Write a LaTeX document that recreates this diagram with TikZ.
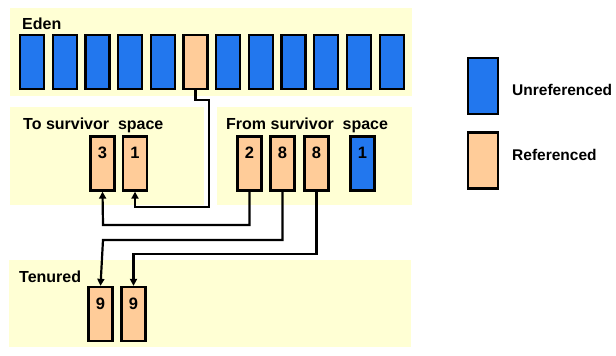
\documentclass[tikz,border=0pt]{standalone}
\usepackage{fontspec}
\setmainfont{Liberation Sans}
\usetikzlibrary{arrows.meta}
\definecolor{panelY}{HTML}{FFFFD4}
\definecolor{cellB}{HTML}{2277EE}
\definecolor{cellO}{HTML}{FFCC99}
\tikzset{
  panel/.style={fill=panelY, draw=none},
  cell/.style={draw=black, line width=2.3pt, minimum width=24pt, inner sep=0pt,
    text height=22pt, text depth=32pt, font=\fontsize{16.5}{16}\selectfont\bfseries},
  blue cell/.style={cell, fill=cellB},
  ref cell/.style={cell, fill=cellO},
  title/.style={anchor=base west, inner sep=0pt, font=\fontsize{16}{18}\selectfont\bfseries},
  legtext/.style={anchor=base west, inner sep=0pt, font=\fontsize{15.5}{18}\selectfont\bfseries},
  conn/.style={line width=2.2pt, -{Triangle[length=7pt,width=7pt]}},
}
\begin{document}
\begin{tikzpicture}[x=1pt,y=-1pt]
\useasboundingbox (0,0) rectangle (616,356);
% panels
\fill[panel] (10,8) rectangle (412,96);
\fill[panel] (10,107) rectangle (204,205);
\fill[panel] (217,107) rectangle (412,205);
\fill[panel] (9,260) rectangle (411,347);
% titles
\node[title] (tEden) at (22,29) {Eden};
\node[title] (tTo) at (23,129) {To survivor\ \ space};
\node[title] (tFrom) at (226,129) {From survivor\ \ space};
\node[title] (tTen) at (19,282) {Tenured};
% eden cells
\foreach \i in {0,...,11} {
  \ifnum\i=5
    \node[ref cell] (e\i) at ({32+\i*32.7},62) {};
  \else
    \node[blue cell] (e\i) at ({32+\i*32.7},62) {};
  \fi
}
% to survivor
\node[ref cell] (t3) at (102.5,163.5) {3};
\node[ref cell] (t1) at (135,163.5) {1};
% from survivor
\node[ref cell] (f2) at (249.5,163.5) {2};
\node[ref cell] (f8a) at (282.5,163.5) {8};
\node[ref cell] (f8b) at (316.5,163.5) {8};
\node[blue cell] (f1) at (362.5,163.5) {1};
% tenured
\node[ref cell] (n9a) at (100.5,314) {9};
\node[ref cell] (n9b) at (133.5,314) {9};
% legend
\node[blue cell, minimum width=30pt, text height=28pt, text depth=28pt] (lu) at (483,86) {};
\node[ref cell, minimum width=30pt, text height=28pt, text depth=28pt] (lr) at (483,160.5) {};
\node[legtext] (lut) at (512,95) {Unreferenced};
\node[legtext] (lrt) at (512,160.5) {Referenced};
% connectors
\draw[conn] (e5.south) -- ++(0,10) -| (209,207) -| (t1.south);
\draw[conn] (f2.south) |- (103,225) -- (t3.south);
\draw[conn] (f8a.south) |- (103,240) -- (n9a.north);
\draw[conn] (f8b.south) |- (133.5,254) -- (n9b.north);
\end{tikzpicture}
\end{document}
